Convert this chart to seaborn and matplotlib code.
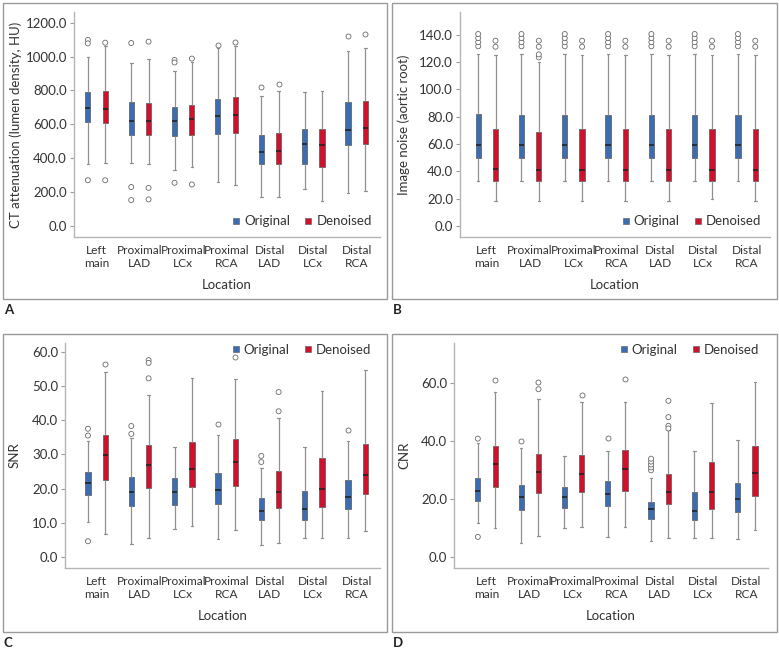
import numpy as np
import pandas as pd
import matplotlib
matplotlib.use("Agg")
import matplotlib.pyplot as plt
from matplotlib.lines import Line2D
from matplotlib.patches import Rectangle
import seaborn as sns

# ---------- data (five-number summaries) ----------
locations = ["Left\nmain", "Proximal\nLAD", "Proximal\nLCx", "Proximal\nRCA",
             "Distal\nLAD", "Distal\nLCx", "Distal\nRCA"]
groups = ["Original", "Denoised"]

# [whisker low, Q1, median, Q3, whisker high]
ct_orig = [[366, 612, 694, 789, 995], [374, 537, 620, 730, 964], [330, 531, 620, 704, 915],
           [262, 543, 649, 749, 1048], [169, 364, 435, 539, 767], [217, 364, 482, 572, 789],
           [197, 476, 569, 733, 1033]]
ct_den = [[374, 606, 690, 797, 1065], [364, 537, 620, 726, 983], [350, 535, 633, 714, 968],
          [240, 551, 653, 763, 1062], [173, 366, 441, 551, 799], [149, 350, 476, 574, 797],
          [205, 482, 580, 740, 1049]]
ct_orig_out = [[1098, 1078, 270], [1080, 230, 153], [980, 965, 255], [1070], [818], [], [1121]]
ct_den_out = [[1082, 270], [1088, 225, 157], [988, 245], [1085], [838], [], [1133]]

noise_orig = [[32.9, 50.0, 59.3, 82.2, 126.1], [33.0, 50.0, 59.2, 81.0, 126.0],
              [33.0, 50.0, 59.2, 81.0, 126.0], [33.0, 50.0, 59.2, 81.0, 126.0],
              [33.0, 50.0, 59.2, 81.0, 126.0], [33.0, 50.0, 59.2, 81.0, 126.0],
              [33.0, 50.0, 59.2, 81.0, 126.0]]
noise_den = [[18.5, 33.2, 41.5, 71.0, 125.1], [18.5, 33.0, 41.0, 69.0, 120.3],
             [18.5, 33.0, 41.3, 70.8, 125.0], [18.5, 33.0, 41.3, 70.8, 125.0],
             [18.5, 33.0, 41.3, 70.8, 125.0], [19.5, 33.0, 41.3, 70.8, 125.0],
             [18.5, 33.0, 41.3, 70.8, 125.0]]
noise_orig_out = [[131.5, 134.5, 137.5, 140.5]] * 7
noise_den_out = [[131.2, 135.6], [123.4, 125.6, 131.2, 135.6], [131.2, 135.6], [131.2, 135.6],
                 [131.2, 135.6], [131.2, 135.6], [131.2, 135.6]]

snr_orig = [[10.4, 18.2, 21.7, 25.0, 34.0], [3.9, 15.0, 19.1, 23.4, 34.7], [8.2, 15.2, 19.1, 23.1, 32.3],
            [5.5, 15.5, 19.6, 24.5, 35.6], [3.5, 11.0, 13.5, 17.4, 26.0], [5.6, 10.8, 14.2, 19.4, 32.3],
            [5.6, 14.1, 17.7, 22.5, 33.8]]
snr_den = [[6.8, 22.6, 29.7, 35.8, 53.9], [5.6, 20.1, 26.9, 32.7, 47.4], [9.0, 20.5, 25.9, 33.6, 52.4],
           [8.0, 20.8, 27.7, 34.4, 52.1], [4.2, 14.5, 19.0, 25.3, 40.5], [5.6, 14.8, 19.9, 29.1, 48.4],
           [7.7, 18.5, 24.1, 33.0, 54.5]]
snr_orig_out = [[37.5, 35.5, 4.7], [38.3, 36.0], [], [38.8], [29.6, 27.8], [], [37.0]]
snr_den_out = [[56.5], [57.5, 56.7, 52.2], [], [58.3], [48.2, 42.6], [], []]

cnr_orig = [[11.7, 19.1, 22.7, 27.2, 39.3], [4.8, 16.1, 20.7, 24.9, 37.5], [9.8, 16.8, 20.7, 24.1, 34.6],
            [7.0, 17.5, 21.6, 26.1, 36.3], [5.4, 13.2, 16.6, 19.0, 27.1], [6.5, 12.6, 15.9, 22.2, 36.5],
            [6.2, 15.3, 19.8, 25.6, 40.1]]
cnr_den = [[9.9, 23.9, 31.9, 38.1, 56.8], [7.1, 21.9, 29.1, 35.3, 54.5], [10.3, 22.5, 28.5, 35.1, 53.3],
           [10.3, 22.7, 30.4, 36.9, 53.3], [6.5, 18.3, 22.2, 28.6, 43.6], [6.5, 16.6, 22.5, 32.7, 53.1],
           [9.3, 21.1, 29.0, 38.2, 60.2]]
cnr_orig_out = [[40.7, 6.9], [39.9], [], [40.8], [29.8, 30.8, 31.8, 32.8, 33.8], [], []]
cnr_den_out = [[60.8], [60.0, 57.7], [55.8], [61.3], [53.7, 48.1, 45.1, 44.2], [], []]

ct_ticks = [0, 200, 400, 600, 800, 1000, 1200]
noise_ticks = [0, 20, 40, 60, 80, 100, 120, 140]
snr_ticks = [0, 10, 20, 30, 40, 50, 60]
cnr_ticks = [0, 20, 40, 60]

# ---------- style ----------
sns.set_style("ticks")
plt.rcParams['font.family'] = ['Lato', 'DejaVu Sans']
plt.rcParams['font.size'] = 9
plt.rcParams['text.color'] = '#333333'
plt.rcParams['axes.labelcolor'] = '#333333'
plt.rcParams['xtick.color'] = '#333333'
plt.rcParams['ytick.color'] = '#333333'

BLUE = '#3a6db3'
RED = '#d2102c'
pal = {"Original": BLUE, "Denoised": RED}


def to_long(orig, den):
    rows = []
    for loc, o, d in zip(locations, orig, den):
        for v in o:
            rows.append((loc, "Original", v))
        for v in d:
            rows.append((loc, "Denoised", v))
    return pd.DataFrame(rows, columns=["Location", "group", "value"])


def draw_panel(ax, orig, den, orig_out, den_out, ylabel, ticks, ylim, xlim,
               legend_anchor, ylab_x, xlab_y):
    df = to_long(orig, den)
    sns.boxplot(data=df, x="Location", y="value", hue="group", order=locations,
                hue_order=groups, palette=pal, whis=(0, 100), width=0.8, gap=0.7,
                saturation=1, linewidth=0.8, showcaps=True, legend=False, ax=ax,
                boxprops=dict(edgecolor='#555555', linewidth=0.5),
                whiskerprops=dict(color='#909090', linewidth=0.9),
                capprops=dict(color='#909090', linewidth=0.9),
                medianprops=dict(color='#1e1e1e', linewidth=1.1))
    df_out = to_long(orig_out, den_out)
    if len(df_out):
        sns.stripplot(data=df_out, x="Location", y="value", hue="group", order=locations,
                      hue_order=groups, dodge=True, jitter=False, size=3.6,
                      palette={"Original": "white", "Denoised": "white"},
                      edgecolor='#6a6a6a', linewidth=0.6, legend=False, ax=ax, zorder=3)
    ax.set_ylim(*ylim)
    ax.set_xlim(*xlim)
    ax.set_yticks(ticks)
    ax.set_yticklabels([f"{t:.1f}" for t in ticks])
    ax.set_ylabel(ylabel, fontsize=9.5)
    ax.set_xlabel("Location", fontsize=9.5)
    ax.yaxis.set_label_coords(ylab_x, 0.5)
    ax.xaxis.set_label_coords(0.5, xlab_y)
    sns.despine(ax=ax)
    for s in ["left", "bottom"]:
        ax.spines[s].set_color('#b5b5b5')
        ax.spines[s].set_linewidth(1.0)
    ax.tick_params(axis="y", length=3, width=0.8, color='#9a9a9a', pad=2, labelsize=9.5)
    ax.tick_params(axis="x", length=0, pad=6, labelsize=8.6)
    handles = [Line2D([], [], marker='s', ls='', color=BLUE, markersize=5,
                      markeredgecolor='#555555', markeredgewidth=0.4),
               Line2D([], [], marker='s', ls='', color=RED, markersize=5,
                      markeredgecolor='#555555', markeredgewidth=0.4)]
    ax.legend(handles, groups, ncol=2, frameon=False, loc="center right",
              bbox_to_anchor=legend_anchor, handletextpad=0.1, columnspacing=0.9,
              handlelength=1.0, borderaxespad=0, fontsize=9.5)


fig = plt.figure(figsize=(7.79, 6.49), dpi=100)
W, H = 779, 649


def axes_px(x0, x1, ytop, ybot):
    return fig.add_axes([x0 / W, 1 - ybot / H, (x1 - x0) / W, (ybot - ytop) / H])


axA = axes_px(74, 380, 12, 237)
axB = axes_px(460, 770, 12, 237)
axC = axes_px(65, 380, 343, 568)
axD = axes_px(454, 768, 343, 568)

draw_panel(axA, ct_orig, ct_den, ct_orig_out, ct_den_out,
           "CT attenuation (lumen density, HU)", ct_ticks, (-65, 1263), (-0.52, 6.54),
           (0.99, 0.07), -0.17, -0.185)
draw_panel(axB, noise_orig, noise_den, noise_orig_out, noise_den_out,
           "Image noise (aortic root)", noise_ticks, (-8, 156.6), (-0.62, 6.54),
           (0.99, 0.07), -0.16, -0.185)
draw_panel(axC, snr_orig, snr_den, snr_orig_out, snr_den_out,
           "SNR", snr_ticks, (-3.1, 62.5), (-0.73, 6.54),
           (0.99, 0.97), -0.14, -0.185)
draw_panel(axD, cnr_orig, cnr_den, cnr_orig_out, cnr_den_out,
           "CNR", cnr_ticks, (-3.8, 73.6), (-0.75, 6.5),
           (0.99, 0.97), -0.14, -0.185)

# panel frames and letters
for (x0, y0, x1, y1), letter in zip([(3, 3, 387, 299), (392, 3, 777, 299),
                                     (3, 334, 387, 632), (392, 334, 777, 632)],
                                    ["A", "B", "C", "D"]):
    fig.add_artist(Rectangle((x0 / W, 1 - y1 / H), (x1 - x0) / W, (y1 - y0) / H,
                             transform=fig.transFigure, fill=False,
                             edgecolor='#9a9a9a', linewidth=1.0))
    fig.text((x0 + 1) / W, 1 - (y1 + 11) / H, letter, fontsize=9.5, fontweight='bold',
             color='#222222', va='center', ha='left')

fig.savefig("out.png", dpi=100)
